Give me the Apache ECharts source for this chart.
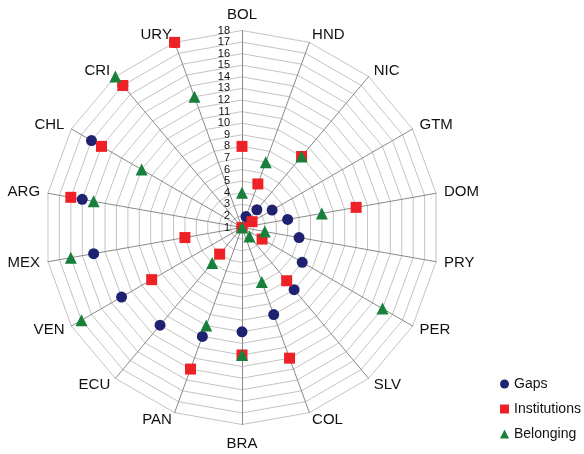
<!DOCTYPE html>
<html>
<head>
<meta charset="utf-8">
<script src="https://cdn.jsdelivr.net/npm/echarts@6/dist/echarts.min.js"></script>
<style>
  html, body { margin: 0; padding: 0; background: #fff; }
  #chart { width: 584px; height: 454px; }
</style>
</head>
<body>
<div id="chart"></div>
<script>
// Countries, clockwise from the top
const countries = ['BOL', 'HND', 'NIC', 'GTM', 'DOM', 'PRY', 'PER', 'SLV', 'COL',
                   'BRA', 'PAN', 'ECU', 'VEN', 'MEX', 'ARG', 'CHL', 'CRI', 'URY'];

// Rank of each country (1 = centre, 18 = outer ring)
const gaps         = [1, 2, 3, 4, 5, 6, 7, 8, 9, 10, 11, 12, 13, 14, 15, 16, 17, 18];
const institutions = [8, 5, 9, 2, 11, 1, 3, 7, 13, 12, 14, 4, 10, 6, 16, 15, 17, 18];
const belonging    = [4, 7, 9, 1, 8, 3, 15, 2, 6, 12, 10, 5, 17, 16, 14, 11, 18, 13];

// Scale labels along the top spoke
const scaleMin = 1;
const scaleMax = 18;

const seriesNames = ['Gaps', 'Institutions', 'Belonging'];
const seriesColors = ['#1f2270', '#ee2226', '#17803b'];
const seriesSymbols = ['circle', 'rect', 'triangle'];
const seriesSizes = [11, 11, 12];
const seriesValues = [gaps, institutions, belonging];

// The radar lays indicators out counter-clockwise, so keep the first one
// at the top and reverse the rest to get a clockwise reading order.
const order = [0].concat(countries.map((_, i) => i).slice(1).reverse());
const reorder = arr => order.map(i => arr[i]);

const cx = 242, cy = 227.5, R = 197;
const font = '"Liberation Sans", Arial, sans-serif';

const chart = echarts.init(document.getElementById('chart'), null, { renderer: 'canvas' });

chart.setOption({
  animation: false,
  backgroundColor: '#ffffff',
  textStyle: { fontFamily: font },
  legend: {
    orient: 'vertical',
    left: 495,
    top: 372,
    itemWidth: 9,
    itemHeight: 9,
    itemGap: 11,
    textStyle: { fontFamily: font, fontSize: 14, color: '#111' },
    data: seriesNames.map((n, i) => ({ name: n, icon: seriesSymbols[i] }))
  },
  radar: {
    center: [cx, cy],
    radius: R,
    startAngle: 90,
    shape: 'polygon',
    splitNumber: scaleMax - scaleMin,
    indicator: reorder(countries).map(c => ({ name: c, min: scaleMin, max: scaleMax })),
    // a little top padding drops the side and bottom names slightly
    axisName: { color: '#111', fontSize: 15, fontFamily: font, padding: [4, 0, 0, 0] },
    nameGap: 8,
    axisLine: { lineStyle: { color: '#8a8a8a', width: 1 } },
    splitLine: { lineStyle: { color: '#c4c4c4', width: 1 } },
    splitArea: { show: false },
    axisTick: { show: false },
    axisLabel: { show: false }
  },
  // Value scale printed beside the top spoke
  grid: { left: cx, top: cy - R, width: 1, height: R },
  xAxis: { type: 'value', show: false },
  yAxis: {
    type: 'value',
    min: scaleMin,
    max: scaleMax,
    interval: 1,
    axisLine: { show: false },
    axisTick: { show: false },
    splitLine: { show: false },
    axisLabel: { margin: 12, fontSize: 11, fontFamily: font, color: '#111' }
  },
  series: seriesNames.map((n, i) => ({
    type: 'radar',
    name: n,
    symbol: seriesSymbols[i],
    symbolSize: seriesSizes[i],
    lineStyle: { width: 0, opacity: 0 },
    itemStyle: { color: seriesColors[i], opacity: 1 },
    z: 2 + i,
    data: [{ name: n, value: reorder(seriesValues[i]) }]
  }))
});
</script>
</body>
</html>
